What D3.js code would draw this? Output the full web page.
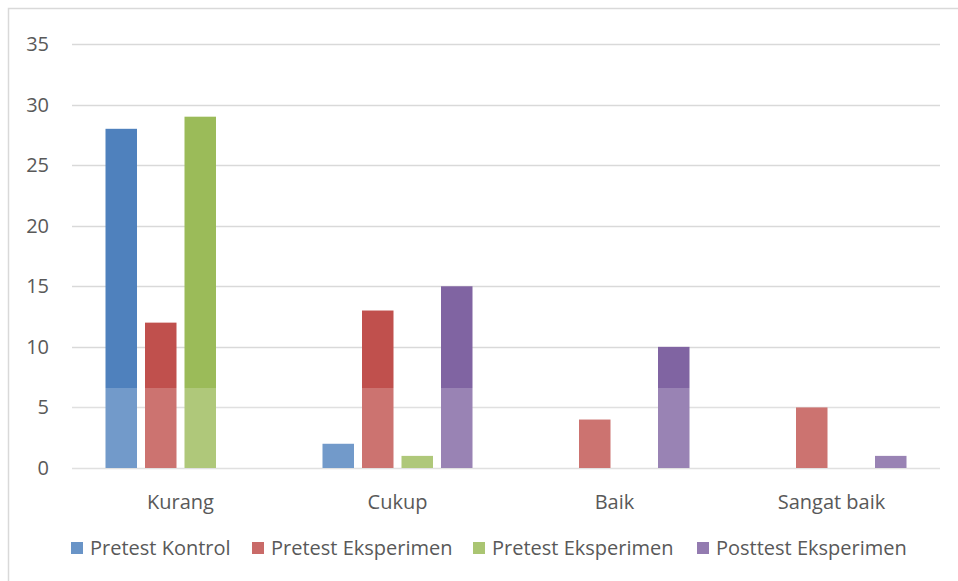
<!DOCTYPE html>
<html>
<head>
<meta charset="utf-8">
<script src="https://cdn.jsdelivr.net/npm/d3@7"></script>
<style>
  body { margin: 0; background: #fff; }
  svg { display: block; font-family: "Open Sans", sans-serif; }
</style>
</head>
<body>
<div id="chart"></div>
<script>
// data
var categories = ["Kurang", "Cukup", "Baik", "Sangat baik"];
var seriesNames = ["Pretest Kontrol", "Pretest Eksperimen", "Pretest Eksperimen", "Posttest Eksperimen"];
var pretestKontrol = [28, 2, 0, 0];
var pretestEksperimen = [12, 13, 4, 5];
var pretestEksperimen2 = [29, 1, 0, 0];
var posttestEksperimen = [0, 15, 10, 1];
var yTicks = [0, 5, 10, 15, 20, 25, 30, 35];
var colors = ["#4F81BD", "#C0504D", "#9BBB59", "#8064A2"];

var allSeries = [pretestKontrol, pretestEksperimen, pretestEksperimen2, posttestEksperimen];

var width = 958, height = 581;
var margin = { top: 44, right: 18, bottom: 113, left: 72 };
var fontSize = "20px";

var svg = d3.select("#chart").append("svg")
  .attr("width", width)
  .attr("height", height);

// chart border
svg.append("rect")
  .attr("x", 8.5).attr("y", 8.5)
  .attr("width", width + 10).attr("height", height + 10)
  .attr("fill", "none")
  .attr("stroke", "#d9d9d9")
  .attr("stroke-width", 1.5);

var x = d3.scaleBand()
  .domain(categories)
  .range([margin.left, width - margin.right]);

var y = d3.scaleLinear()
  .domain([0, 35])
  .range([height - margin.bottom, margin.top]);

var barW = 31.5, gap = 8;
var groupW = 4 * barW + 3 * gap;
var xInner = d3.scaleBand()
  .domain(d3.range(4))
  .range([0, groupW])
  .paddingInner(gap / (barW + gap));

// gridlines
svg.append("g")
  .selectAll("line")
  .data(yTicks)
  .join("line")
  .attr("x1", margin.left)
  .attr("x2", width - margin.right)
  .attr("y1", d => Math.round(y(d)) + 0.5)
  .attr("y2", d => Math.round(y(d)) + 0.5)
  .attr("stroke", "#d9d9d9")
  .attr("stroke-width", 1.5);

// y labels
svg.append("g")
  .selectAll("text")
  .data(yTicks)
  .join("text")
  .attr("x", 49)
  .attr("y", d => y(d) + 7)
  .attr("text-anchor", "end")
  .attr("fill", "#595959")
  .style("font-size", fontSize)
  .text(d => d);

// bars
var rows = [];
categories.forEach(function(c, i) {
  allSeries.forEach(function(s, j) {
    rows.push({ cat: c, k: j, v: s[i] });
  });
});

svg.append("g")
  .selectAll("rect")
  .data(rows.filter(d => d.v > 0))
  .join("rect")
  .attr("x", d => x(d.cat) + (x.bandwidth() - groupW) / 2 + xInner(d.k))
  .attr("y", d => y(d.v))
  .attr("width", xInner.bandwidth())
  .attr("height", d => y(0) - y(d.v))
  .attr("fill", d => colors[d.k]);

// faded lower part (watermark in the scan)
svg.append("rect")
  .attr("x", 60)
  .attr("y", 388)
  .attr("width", width - 60)
  .attr("height", height - 388)
  .attr("fill", "#fff")
  .attr("opacity", 0.2);

// category labels
svg.append("g")
  .selectAll("text")
  .data(categories)
  .join("text")
  .attr("x", d => x(d) + x.bandwidth() / 2)
  .attr("y", 509)
  .attr("text-anchor", "middle")
  .attr("fill", "#595959")
  .style("font-size", fontSize)
  .text(d => d);

// legend
var legendX = [71, 252, 473, 697];
var legend = svg.append("g")
  .selectAll("g")
  .data(seriesNames)
  .join("g")
  .attr("transform", (d, i) => "translate(" + legendX[i] + ",548)");

legend.append("rect")
  .attr("x", 0).attr("y", -6)
  .attr("width", 12).attr("height", 12)
  .attr("fill", (d, i) => colors[i])
  .attr("opacity", 0.85);

legend.append("text")
  .attr("x", 19)
  .attr("y", 7)
  .attr("fill", "#595959")
  .style("font-size", fontSize)
  .text(d => d);
</script>
</body>
</html>
